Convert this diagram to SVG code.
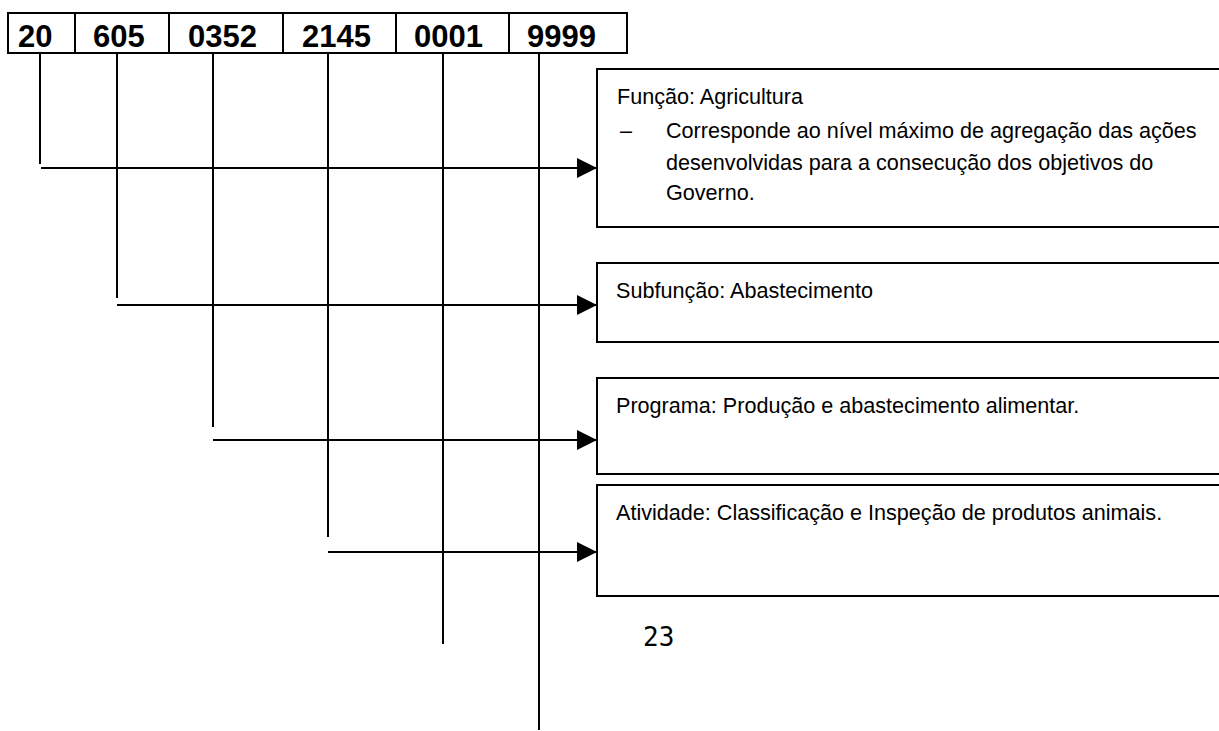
<svg xmlns="http://www.w3.org/2000/svg" width="1219" height="731" viewBox="0 0 1219 731">
<style>
.ln{stroke:#000;stroke-width:2;fill:none}
.bx{stroke:#000;stroke-width:2;fill:#fff}
.code{font-family:"Liberation Sans",Arial,sans-serif;font-weight:bold;font-size:31px;fill:#000}
.t{font-family:"Liberation Sans",Arial,sans-serif;font-size:21.6px;fill:#000}
.pg{font-family:"DejaVu Sans Mono","Liberation Mono",monospace;font-size:26px;fill:#000}
</style>
<defs>
<marker id="ah" markerWidth="10" markerHeight="10" refX="10" refY="5" orient="auto" markerUnits="userSpaceOnUse" viewBox="0 0 10 10">
<path d="M0,0 L10,5 L0,10 Z" fill="#000"/>
</marker>
</defs>
<rect width="1219" height="731" fill="#fff"/>

<g id="code-table">
<rect x="8" y="13" width="619" height="40" class="ln"/>
<line x1="75" y1="13" x2="75" y2="53" class="ln"/>
<line x1="169" y1="13" x2="169" y2="53" class="ln"/>
<line x1="283" y1="13" x2="283" y2="53" class="ln"/>
<line x1="396" y1="13" x2="396" y2="53" class="ln"/>
<line x1="509" y1="13" x2="509" y2="53" class="ln"/>
<text x="18" y="47" class="code">20</text>
<text x="93" y="47" class="code">605</text>
<text x="188" y="47" class="code">0352</text>
<text x="302" y="47" class="code">2145</text>
<text x="414" y="47" class="code">0001</text>
<text x="527" y="47" class="code">9999</text>
</g>

<g id="connectors">
<line x1="40" y1="53" x2="40" y2="164" class="ln"/>
<line x1="117" y1="53" x2="117" y2="298" class="ln"/>
<line x1="213" y1="53" x2="213" y2="427" class="ln"/>
<line x1="328" y1="53" x2="328" y2="537" class="ln"/>
<line x1="443" y1="53" x2="443" y2="644" class="ln"/>
<line x1="539" y1="53" x2="539" y2="730" class="ln"/>
<line x1="41" y1="168" x2="597" y2="168" class="ln"/>
<path d="M577,158 L597,168 L577,178 Z" fill="#000"/>
<line x1="117" y1="305" x2="597" y2="305" class="ln"/>
<path d="M577,295 L597,305 L577,315 Z" fill="#000"/>
<line x1="213" y1="440" x2="597" y2="440" class="ln"/>
<path d="M577,430 L597,440 L577,450 Z" fill="#000"/>
<line x1="328" y1="552" x2="597" y2="552" class="ln"/>
<path d="M577,542 L597,552 L577,562 Z" fill="#000"/>
</g>

<g id="funcao">
<rect x="597" y="69" width="700" height="158" class="bx"/>
<text x="617" y="104" class="t">Função: Agricultura</text>
<text x="620" y="138" class="t">–</text>
<text x="666" y="138" class="t">Corresponde ao nível máximo de agregação das ações</text>
<text x="666" y="170" class="t">desenvolvidas para a consecução dos objetivos do</text>
<text x="666" y="200" class="t">Governo.</text>
</g>

<g id="subfuncao">
<rect x="597" y="263" width="700" height="79" class="bx"/>
<text x="616" y="298" class="t">Subfunção: Abastecimento</text>
</g>

<g id="programa">
<rect x="597" y="378" width="700" height="96" class="bx"/>
<text x="616" y="413" class="t">Programa: Produção e abastecimento alimentar.</text>
</g>

<g id="atividade">
<rect x="597" y="485" width="700" height="111" class="bx"/>
<text x="616" y="520" class="t">Atividade: Classificação e Inspeção de produtos animais.</text>
</g>

<text x="643" y="646" class="pg">23</text>
</svg>
